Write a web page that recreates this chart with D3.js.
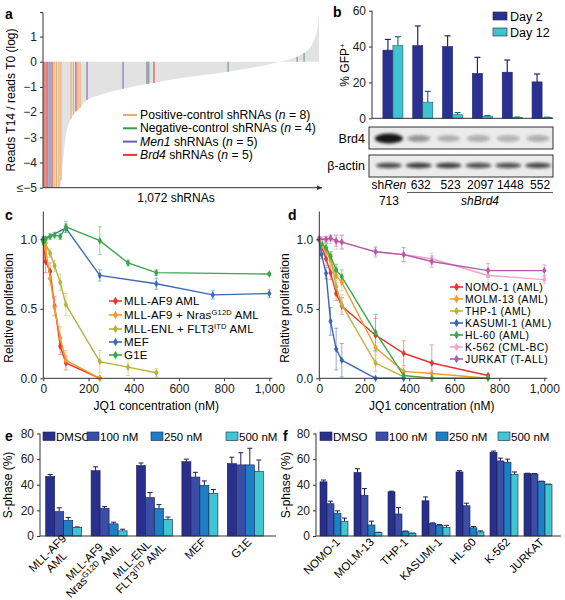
<!DOCTYPE html>
<html><head><meta charset="utf-8">
<script src="https://cdn.jsdelivr.net/npm/d3@7"></script>
<style>body{margin:0;background:#fff} svg{display:block;font-family:"Liberation Sans",Arial,Helvetica,sans-serif}</style>
</head><body><svg id="fig" width="565" height="600"></svg>
<script>
// ================= DATA =================
// Panel a: sorted shRNA screen (rank -> log ratio)
const aCurveRank  = [0, 66, 74, 82, 89, 97, 109, 120, 132, 144, 159, 171, 190, 221, 260, 311, 357, 404, 431, 493, 610, 719, 843, 920, 987, 1014, 1037, 1053, 1064, 1072];
const aCurveValue = [-5, -5, -4.3, -3.5, -2.9, -2.55, -2.25, -2.08, -1.95, -1.83, -1.65, -1.52, -1.42, -1.32, -1.2, -1.07, -0.97, -0.88, -0.84, -0.72, -0.55, -0.4, -0.18, 0, 0.2, 0.35, 0.55, 0.85, 1.2, 1.85];
const aPosRank = [43, 52, 62, 70, 109, 118, 136, 144];
const aPosValue = [-5, -5, -5, -4.7, -2.25, -2.1, -1.93, -1.83];
const aNegRank = [411, 719, 987, 1014];
const aNegValue = [-0.87, -0.4, 0.2, 0.35];
const aMen1Rank = [19, 27, 171, 311, 404];
const aMen1Value = [-5, -5, -1.52, -1.07, -0.88];
const aBrd4Rank = [4, 12, 35, 128, 431];
const aBrd4Value = [-5, -5, -5, -1.97, -0.84];
const aTicks = [1, 0, -1, -2, -3, -4, -5];

// Panel b
const bLanes = ["713", "632", "523", "2097", "1448", "552"];
const bDay2 = [38, 40.5, 40, 25, 25.7, 20.3];
const bDay2Err = [6, 11, 6, 9, 6.8, 4.4];
const bDay12 = [40.5, 9, 2, 1.2, 0.5, 0.4];
const bDay12Err = [5, 6, 1.2, 0.3, 0.2, 0.2];
const bBrd4Band = [1.0, 0.42, 0.26, 0.3, 0.28, 0.3];
const bActinBand = [0.72, 0.78, 0.78, 0.7, 0.7, 0.74];
const bTicks = [0, 20, 40, 60];

// Panel c
const cNames = ["MLL-AF9 AML", "MLL-AF9 + Nras|G12D| AML", "MLL-ENL + FLT3|ITD| AML", "MEF", "G1E"];
const cConc1 = [0, 10, 30, 50, 75, 100, 250];
const cVal1  = [1.0, 0.84, 0.77, 0.52, 0.23, 0.11, 0.0];
const cErr1  = [0.02, 0.08, 0.06, 0.07, 0.06, 0.05, 0.0];
const cConc2 = [0, 10, 30, 50, 75, 100, 250];
const cVal2  = [1.0, 0.93, 0.72, 0.51, 0.29, 0.13, 0.0];
const cErr2  = [0.02, 0.06, 0.05, 0.06, 0.08, 0.07, 0.0];
const cConc3 = [0, 10, 30, 50, 75, 100, 250, 375, 500];
const cVal3  = [1.0, 0.97, 0.90, 0.81, 0.69, 0.53, 0.12, 0.08, 0.04];
const cErr3  = [0.02, 0.03, 0.03, 0.04, 0.06, 0.08, 0.08, 0.06, 0.03];
const cConc4 = [0, 100, 250, 500, 750, 1000];
const cVal4  = [1.0, 1.08, 0.74, 0.68, 0.60, 0.61];
const cErr4  = [0.01, 0.03, 0.04, 0.04, 0.03, 0.03];
const cConc5 = [0, 10, 30, 50, 75, 100, 250, 375, 500, 1000];
const cVal5  = [0.98, 1.0, 1.02, 1.03, 1.02, 1.09, 0.99, 0.83, 0.76, 0.75];
const cErr5  = [0.02, 0.02, 0.02, 0.02, 0.02, 0.04, 0.1, 0.02, 0.02, 0.01];

// Panel d
const dNames = ["NOMO-1 (AML)", "MOLM-13 (AML)", "THP-1 (AML)", "KASUMI-1 (AML)", "HL-60 (AML)", "K-562 (CML-BC)", "JURKAT (T-ALL)"];
const dConc1 = [0, 10, 30, 50, 75, 100, 250, 375, 500, 750];
const dVal1  = [1.0, 0.95, 0.86, 0.76, 0.61, 0.52, 0.31, 0.18, 0.11, 0.02];
const dErr1  = [0.01, 0.03, 0.05, 0.05, 0.05, 0.06, 0.12, 0.09, 0.13, 0.01];
const dConc2 = [0, 10, 30, 50, 75, 100, 250, 375, 500, 750];
const dVal2  = [1.0, 0.95, 0.92, 0.85, 0.74, 0.69, 0.22, 0.05, 0.035, 0.0];
const dErr2  = [0.01, 0.02, 0.03, 0.04, 0.05, 0.06, 0.08, 0.03, 0.02, 0.0];
const dConc3 = [0, 10, 30, 50, 75, 100, 250, 375];
const dVal3  = [1.0, 0.96, 0.93, 0.87, 0.66, 0.53, 0.11, 0.01];
const dErr3  = [0.01, 0.02, 0.03, 0.04, 0.06, 0.07, 0.06, 0.01];
const dConc4 = [0, 10, 30, 50, 75, 100, 250, 375];
const dVal4  = [1.0, 0.89, 0.755, 0.41, 0.21, 0.13, 0.0, 0.0];
const dErr4  = [0.01, 0.03, 0.04, 0.1, 0.15, 0.12, 0.0, 0.0];
const dConc5 = [0, 10, 30, 50, 75, 100, 250, 375, 500, 750];
const dVal5  = [1.0, 0.97, 0.94, 0.88, 0.78, 0.73, 0.33, 0.02, 0.0, 0.0];
const dErr5  = [0.01, 0.02, 0.03, 0.03, 0.04, 0.05, 0.13, 0.02, 0.0, 0.0];
const dConc6 = [0, 10, 30, 50, 75, 100, 250, 375, 500, 750, 1000];
const dVal6  = [1.0, 1.0, 1.0, 1.0, 0.98, 0.98, 0.91, 0.89, 0.86, 0.74, 0.71];
const dErr6  = [0.01, 0.02, 0.02, 0.03, 0.05, 0.05, 0.04, 0.05, 0.04, 0.05, 0.03];
const dConc7 = [0, 30, 50, 75, 100, 250, 375, 500, 750, 1000];
const dVal7  = [1.0, 1.0, 1.01, 0.99, 0.98, 0.91, 0.89, 0.84, 0.775, 0.775];
const dErr7  = [0.02, 0.02, 0.02, 0.04, 0.05, 0.03, 0.05, 0.04, 0.05, 0.04];
const xTicksCD = [0, 200, 400, 600, 800, 1000];
const yTicksCD = [0, 0.5, 1.0];

// Panel e
const eGroups = ["MLL-AF9|AML", "MLL-AF9|Nras^G12D AML", "MLL-ENL|FLT3^ITD AML", "MEF", "G1E"];
const eDMSO = [46.5, 51, 55, 58, 56.5];
const eDMSOErr = [1.5, 3, 2, 2, 5];
const e100 = [19, 21.7, 30, 46, 55.5];
const e100Err = [3, 1.3, 4, 3.7, 9.5];
const e250 = [12.2, 9.5, 21.5, 39.5, 55.5];
const e250Err = [2.3, 1.3, 3, 3.5, 13];
const e500 = [6.8, 4, 13, 33.3, 50.3];
const e500Err = [0.3, 1.3, 1.8, 3, 9];

// Panel f
const fGroups = ["NOMO-1", "MOLM-13", "THP-1", "KASUMI-1", "HL-60", "K-562", "JURKAT"];
const fDMSO = [42.3, 49.6, 34.5, 27.5, 50, 65.3, 48.7];
const fDMSOErr = [1.4, 2.9, 0.5, 3, 1, 1, 0.3];
const f100 = [25.2, 31.8, 17.2, 9.9, 23.6, 58.6, 48.4];
const f100Err = [2, 5.2, 5, 0.3, 2, 2.2, 0.3];
const f250 = [17.8, 8.6, 3.4, 8.4, 6.4, 57.6, 42.5];
const f250Err = [1.8, 3, 0.5, 0.5, 1, 2.4, 0.3];
const f500 = [11.5, 2.6, 2.0, 6.8, 3.2, 48.0, 40.2];
const f500Err = [2.5, 0.3, 0.3, 1.5, 0.8, 2, 0.3];
const treatNames = ["DMSO", "100 nM", "250 nM", "500 nM"];
const sTicks = [0, 20, 40, 60, 80];

// ================= DRAW =================
const svg = d3.select("#fig");
const AX = "#333";
const defs = svg.append("defs");
defs.append("filter").attr("id", "blur").attr("x", "-50%").attr("y", "-100%").attr("width", "200%").attr("height", "300%")
  .append("feGaussianBlur").attr("stdDeviation", 1.8);
defs.append("marker").attr("id", "arrow").attr("viewBox", "0 0 10 10").attr("refX", 9).attr("refY", 5)
  .attr("markerWidth", 6).attr("markerHeight", 6).attr("orient", "auto")
  .append("path").attr("d", "M0,1 L10,5 L0,9 Z").attr("fill", AX);

function styleAxis(g, fs) {
  g.selectAll("path,line").attr("stroke", AX).attr("stroke-width", 1);
  g.selectAll("text").attr("font-size", fs).attr("fill", "#222").attr("font-family", null);
}
function fmtMinus(d) { return d < 0 ? "\u2212" + Math.abs(d) : String(d); }

// panel letters
[["a", 5, 19], ["b", 333, 17], ["c", 5, 220], ["d", 288, 220], ["e", 5, 441], ["f", 283, 441]].forEach(([t, x, y]) =>
  svg.append("text").attr("x", x).attr("y", y).attr("font-size", 14).attr("font-weight", "bold").text(t));

// ---------- Panel a ----------
{
  const x = d3.scaleLinear().domain([0, 1072]).range([43, 319]);
  const y = d3.scaleLinear().domain([-5, 1.95]).range([187.7, 12.6]);
  const pts = aCurveRank.map((r, i) => [r, aCurveValue[i]]);
  svg.append("path").datum(pts)
    .attr("d", d3.area().x(d => x(d[0])).y0(y(0)).y1(d => y(d[1])).curve(d3.curveMonotoneX))
    .attr("fill", "#e2e2e2");
  const groups = [
    [aNegRank, aNegValue, "#6f9a78"],
    [aMen1Rank, aMen1Value, "#7a6db0"],
    [aPosRank, aPosValue, "#f1aa66"],
    [aBrd4Rank, aBrd4Value, "#e0443a"]
  ];
  groups.forEach(([rk, vl, col]) => {
    svg.append("g").selectAll("line").data(rk).join("line")
      .attr("x1", d => x(d)).attr("x2", d => x(d))
      .attr("y1", y(0)).attr("y2", (d, i) => y(vl[i]))
      .attr("stroke", col).attr("stroke-width", 1.1);
  });
  const ga = svg.append("g").attr("transform", "translate(43,0)")
    .call(d3.axisLeft(y).tickValues(aTicks).tickSize(3).tickFormat(d => d === -5 ? "\u2264\u22125" : fmtMinus(d)));
  styleAxis(ga, 12);
  ga.select(".domain").attr("d", `M-3,${y(1.95)}H0V${y(-5)}`);
  svg.append("line").attr("x1", 43).attr("x2", 322).attr("y1", y(-5)).attr("y2", y(-5))
    .attr("stroke", AX).attr("stroke-width", 1).attr("marker-end", "url(#arrow)");
  svg.append("text").attr("x", 176).attr("y", 202).attr("text-anchor", "middle").attr("font-size", 12).text("1,072 shRNAs");
  svg.append("text").attr("transform", "translate(15,100) rotate(-90)").attr("text-anchor", "middle").attr("font-size", 12)
    .text("Reads T14 / reads T0 (log)");
  const leg = [
    ["#f1aa66", ["Positive-control shRNAs (", ["n", 1], " = 8)"]],
    ["#3a9a50", ["Negative-control shRNAs (", ["n", 1], " = 4)"]],
    ["#6a5cb0", [["Men1", 1], " shRNAs (", ["n", 1], " = 5)"]],
    ["#e53a30", [["Brd4", 1], " shRNAs (", ["n", 1], " = 5)"]]
  ];
  leg.forEach(([col, parts], i) => {
    const yy = 115 + i * 13.3;
    svg.append("line").attr("x1", 123).attr("x2", 137).attr("y1", yy).attr("y2", yy).attr("stroke", col).attr("stroke-width", 2);
    const t = svg.append("text").attr("x", 140).attr("y", yy + 4).attr("font-size", 12.2);
    parts.forEach(p => {
      if (Array.isArray(p)) t.append("tspan").attr("font-style", "italic").text(p[0]);
      else t.append("tspan").text(p);
    });
  });
}

// ---------- Panel b ----------
{
  const xb = d3.scaleBand().domain(d3.range(bLanes.length)).range([378, 557]).padding(0);
  const yb = d3.scaleLinear().domain([0, 60]).range([118.3, 10.7]);
  const cx = i => xb(i) + xb.bandwidth() / 2;
  const c2 = "#2a3192", c12 = "#3fc4cf";
  const bw = 10;
  const gb = svg.append("g");
  const errs = (vals, err, off, col) => {
    vals.forEach((v, i) => {
      const xx = cx(i) + off;
      gb.append("line").attr("x1", xx).attr("x2", xx).attr("y1", yb(v)).attr("y2", yb(v + err[i])).attr("stroke", col).attr("stroke-width", 1.2);
      gb.append("line").attr("x1", xx - 3).attr("x2", xx + 3).attr("y1", yb(v + err[i])).attr("y2", yb(v + err[i])).attr("stroke", col).attr("stroke-width", 1.2);
    });
  };
  errs(bDay2, bDay2Err, -5, "#1e2470");
  errs(bDay12, bDay12Err, 5, "#1e6f76");
  gb.selectAll(".d2").data(bDay2).join("rect").attr("x", (d, i) => cx(i) - bw).attr("y", d => yb(d))
    .attr("width", bw).attr("height", d => yb(0) - yb(d)).attr("fill", c2).attr("stroke", "#1a1f60").attr("stroke-width", 0.6);
  gb.selectAll(".d12").data(bDay12).join("rect").attr("x", (d, i) => cx(i)).attr("y", d => yb(d))
    .attr("width", bw).attr("height", d => yb(0) - yb(d)).attr("fill", c12).attr("stroke", "#1d5e64").attr("stroke-width", 0.6);
  const gy = svg.append("g").attr("transform", "translate(372,0)").call(d3.axisLeft(yb).tickValues(bTicks).tickSize(3));
  styleAxis(gy, 12);
  gy.select(".domain").attr("d", `M0,${yb(60)}V${yb(0)}`);
  svg.append("line").attr("x1", 372).attr("x2", 553).attr("y1", yb(0)).attr("y2", yb(0)).attr("stroke", AX);
  svg.append("text").attr("transform", "translate(349,65) rotate(-90)").attr("text-anchor", "middle").attr("font-size", 12)
    .text("% GFP").append("tspan").attr("dy", -4).attr("font-size", 8).text("+");
  [["Day 2", c2], ["Day 12", c12]].forEach(([t, c], i) => {
    svg.append("rect").attr("x", 493).attr("y", 12 + i * 16).attr("width", 14).attr("height", 8).attr("fill", c).attr("stroke", "#222").attr("stroke-width", 0.6);
    svg.append("text").attr("x", 510).attr("y", 20.5 + i * 16).attr("font-size", 12.5).text(t);
  });
  const blots = [
    { y0: 127, y1: 149, inten: bBrd4Band, lab: "Brd4", by: 138.5 },
    { y0: 155, y1: 177, inten: bActinBand, lab: "\u03b2-actin", by: 165.5 }
  ];
  blots.forEach(b => {
    svg.append("rect").attr("x", 369).attr("y", b.y0).attr("width", 184).attr("height", b.y1 - b.y0).attr("fill", "#ebebeb").attr("stroke", "#333").attr("stroke-width", 1);
    svg.append("g").attr("filter", "url(#blur)").selectAll("ellipse").data(b.inten).join("ellipse")
      .attr("cx", (d, i) => cx(i) - 4).attr("cy", b.by)
      .attr("rx", (d, i) => b.lab === "Brd4" ? (i === 0 ? 14 : 11.5) : 13)
      .attr("ry", (d, i) => b.lab === "Brd4" ? (i === 0 ? 5 : 3.2) : 2.8)
      .attr("fill", "#151515").attr("opacity", d => d);
    svg.append("text").attr("x", 365).attr("y", b.by + 4).attr("text-anchor", "end").attr("font-size", 12.5).text(b.lab);
  });
  const sr = svg.append("text").attr("x", cx(0) - 4).attr("y", 189).attr("text-anchor", "middle").attr("font-size", 12);
  sr.append("tspan").text("sh"); sr.append("tspan").attr("font-style", "italic").text("Ren");
  svg.append("text").attr("x", cx(0) - 4).attr("y", 205).attr("text-anchor", "middle").attr("font-size", 12).text(bLanes[0]);
  svg.selectAll(".lane").data(bLanes.slice(1)).join("text").attr("x", (d, i) => cx(i + 1) - 2).attr("y", 189)
    .attr("text-anchor", "middle").attr("font-size", 12).text(d => d);
  svg.append("line").attr("x1", 407).attr("x2", 553).attr("y1", 192.5).attr("y2", 192.5).attr("stroke", AX).attr("stroke-width", 0.8);
  svg.append("text").attr("x", 480).attr("y", 205).attr("text-anchor", "middle").attr("font-size", 12).attr("font-style", "italic").text("shBrd4");
}

// ---------- Panels c & d ----------
function lightColor(c) { const h = d3.hsl(c); h.l = Math.min(0.85, h.l + 0.18); return h.formatHex(); }
function drawCurves(x0, x1, series, legendX, legendY, legFS, legLS) {
  const x = d3.scaleLinear().domain([0, 1000]).range([x0, x1]);
  const y = d3.scaleLinear().domain([0, 1.2]).range([378.3, 211.5]);
  const g = svg.append("g");
  series.forEach(s => {
    const lc = lightColor(s.color);
    s.conc.forEach((c, i) => {
      const e = s.err[i]; if (!e) return;
      const xx = x(c);
      g.append("line").attr("x1", xx).attr("x2", xx).attr("y1", y(s.val[i] - e)).attr("y2", y(s.val[i] + e)).attr("stroke", lc).attr("stroke-width", 0.8);
      [s.val[i] - e, s.val[i] + e].forEach(v => g.append("line").attr("x1", xx - 2).attr("x2", xx + 2).attr("y1", y(v)).attr("y2", y(v)).attr("stroke", lc).attr("stroke-width", 0.8));
    });
  });
  series.forEach(s => {
    g.append("path").datum(s.conc.map((c, i) => [c, s.val[i]]))
      .attr("d", d3.line().x(d => x(d[0])).y(d => y(d[1])))
      .attr("fill", "none").attr("stroke", s.color).attr("stroke-width", 1.4);
    g.selectAll(null).data(s.conc).join("path")
      .attr("transform", (c, i) => `translate(${x(c)},${y(s.val[i])})`)
      .attr("d", d3.symbol(d3.symbolDiamond, 16)).attr("fill", s.color);
  });
  const gx = svg.append("g").attr("transform", "translate(0,378.3)")
    .call(d3.axisBottom(x).tickValues(xTicksCD).tickSize(3).tickFormat(d => d === 1000 ? "1,000" : d));
  styleAxis(gx, 12);
  gx.select(".domain").attr("d", `M${x0},0H${x1 + 3}`);
  const gy = svg.append("g").attr("transform", `translate(${x0},0)`)
    .call(d3.axisLeft(y).tickValues(yTicksCD).tickSize(3).tickFormat(d3.format(".1f")));
  styleAxis(gy, 12);
  gy.select(".domain").attr("d", `M0,${y(1.2)}V${y(0)}`);
  svg.append("text").attr("x", (x0 + x1) / 2).attr("y", 410).attr("text-anchor", "middle").attr("font-size", 12).text("JQ1 concentration (nM)");
  svg.append("text").attr("transform", `translate(${x0 - 30},${308}) rotate(-90)`).attr("text-anchor", "middle").attr("font-size", 12).text("Relative proliferation");
  series.forEach((s, i) => {
    const yy = legendY[i];
    svg.append("line").attr("x1", legendX - 15).attr("x2", legendX - 2).attr("y1", yy).attr("y2", yy).attr("stroke", s.color).attr("stroke-width", 1.6);
    svg.append("path").attr("transform", `translate(${legendX - 8.5},${yy})`).attr("d", d3.symbol(d3.symbolDiamond, 22)).attr("fill", s.color);
    const t = svg.append("text").attr("x", legendX).attr("y", yy + legFS * 0.35).attr("font-size", legFS).attr("letter-spacing", legLS);
    const parts = s.name.split("|");
    parts.forEach((p, k) => {
      if (k % 2 === 1) t.append("tspan").attr("font-size", 7.5).attr("dy", -4).text(p);
      else t.append("tspan").attr("dy", k ? 4 : 0).text(p);
    });
  });
}
drawCurves(43.3, 269.3, [
  { name: cNames[0], color: "#e8352e", conc: cConc1, val: cVal1, err: cErr1 },
  { name: cNames[1], color: "#f39a2a", conc: cConc2, val: cVal2, err: cErr2 },
  { name: cNames[2], color: "#b5b33c", conc: cConc3, val: cVal3, err: cErr3 },
  { name: cNames[3], color: "#3d6bb5", conc: cConc4, val: cVal4, err: cErr4 },
  { name: cNames[4], color: "#3aa64a", conc: cConc5, val: cVal5, err: cErr5 }
], 124, [301, 315, 329, 342, 355], 11.5, 0.2);
drawCurves(319.3, 544.3, [
  { name: dNames[0], color: "#e8352e", conc: dConc1, val: dVal1, err: dErr1 },
  { name: dNames[1], color: "#f39c2e", conc: dConc2, val: dVal2, err: dErr2 },
  { name: dNames[2], color: "#b9b43c", conc: dConc3, val: dVal3, err: dErr3 },
  { name: dNames[3], color: "#3a66b5", conc: dConc4, val: dVal4, err: dErr4 },
  { name: dNames[4], color: "#38a84a", conc: dConc5, val: dVal5, err: dErr5 },
  { name: dNames[5], color: "#f4a3c2", conc: dConc6, val: dVal6, err: dErr6 },
  { name: dNames[6], color: "#b35aa8", conc: dConc7, val: dVal7, err: dErr7 }
], 465, [287, 299, 311, 323, 335, 347, 359], 10.4, 0.45);

// ---------- Panels e & f ----------
const treatColors = ["#282f8c", "#3a4ea8", "#1e80c4", "#40c6d0"];
function drawSBars(x0, x1, axisEnd, groups, vals, errs, bw, legendXs, ylabX) {
  const y = d3.scaleLinear().domain([0, 80]).range([536, 433.5]);
  const xg = d3.scaleBand().domain(d3.range(groups.length)).range([x0, x1]).padding(0);
  const g = svg.append("g");
  vals.forEach((arr, k) => {
    arr.forEach((v, i) => {
      const cx = xg(i) + xg.bandwidth() / 2 + (k - 2) * bw;
      const top = y(v + errs[k][i]);
      g.append("line").attr("x1", cx + bw / 2).attr("x2", cx + bw / 2).attr("y1", y(v)).attr("y2", top).attr("stroke", "#1a1f5a").attr("stroke-width", 1);
      g.append("line").attr("x1", cx + bw / 2 - 2.5).attr("x2", cx + bw / 2 + 2.5).attr("y1", top).attr("y2", top).attr("stroke", "#1a1f5a").attr("stroke-width", 1);
    });
    g.selectAll(null).data(arr).join("rect")
      .attr("x", (v, i) => xg(i) + xg.bandwidth() / 2 + (k - 2) * bw).attr("y", v => y(v))
      .attr("width", bw).attr("height", v => y(0) - y(v))
      .attr("fill", treatColors[k]).attr("stroke", "#1b1f4e").attr("stroke-width", 0.6);
  });
  const gy = svg.append("g").attr("transform", `translate(${x0 - 1},0)`).call(d3.axisLeft(y).tickValues(sTicks).tickSize(3));
  styleAxis(gy, 12);
  gy.select(".domain").attr("d", `M0,${y(80)}V${y(0)}`);
  svg.append("line").attr("x1", x0 - 1).attr("x2", axisEnd).attr("y1", y(0)).attr("y2", y(0)).attr("stroke", AX);
  svg.append("text").attr("transform", `translate(${ylabX},485) rotate(-90)`).attr("text-anchor", "middle").attr("font-size", 12).text("S-phase (%)");
  treatNames.forEach((t, k) => {
    svg.append("rect").attr("x", legendXs[k]).attr("y", 432).attr("width", 12).attr("height", 8.5).attr("fill", treatColors[k]).attr("stroke", "#1b1f4e").attr("stroke-width", 0.6);
    svg.append("text").attr("x", legendXs[k] + 13).attr("y", 440.5).attr("font-size", 11.5).text(t);
  });
  const FS = 11.5;
  groups.forEach((lab, i) => {
    const cx = xg(i) + xg.bandwidth() / 2;
    const lines = lab.split("|");
    const t = svg.append("text").attr("transform", `translate(${cx + 4},${540}) rotate(-45)`).attr("font-size", FS);
    const spans = lines.map((ln, j) => {
      const sub = t.append("tspan").attr("y", j === 0 ? (lines.length > 1 ? -1 : 4) : 11.5);
      const sup = ln.split("^");
      if (sup.length > 1) {
        const rest = sup[1].split(" ");
        sub.text(sup[0]);
        sub.append("tspan").attr("font-size", 8).attr("dy", -4).text(rest[0]);
        sub.append("tspan").attr("dy", 4).text(" " + rest.slice(1).join(" "));
      } else sub.text(ln);
      return sub;
    });
    const widths = spans.map(s => s.node().getComputedTextLength());
    const maxW = d3.max(widths);
    spans.forEach((s, j) => s.attr("x", -maxW / 2 - widths[j] / 2));
  });
}
drawSBars(41, 268, 276, eGroups, [eDMSO, e100, e250, e500], [eDMSOErr, e100Err, e250Err, e500Err], 9, [43, 87, 151, 226], 12);
drawSBars(317, 555, 561, fGroups, [fDMSO, f100, f250, f500], [fDMSOErr, f100Err, f250Err, f500Err], 7, [320, 376, 436, 498], 290);
</script></body></html>
